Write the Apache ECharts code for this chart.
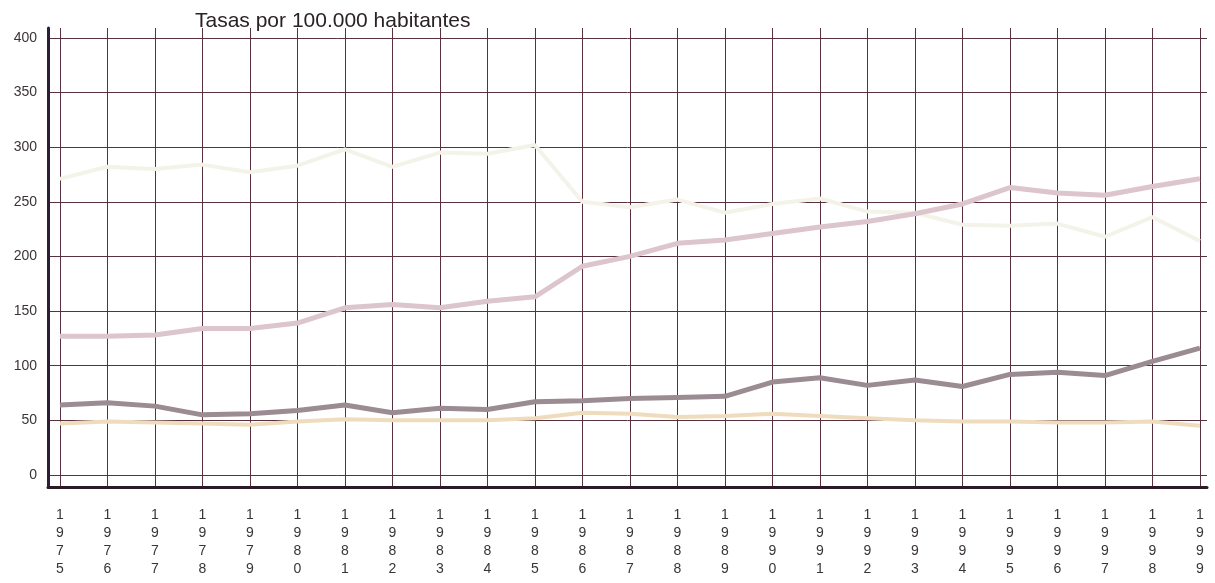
<!DOCTYPE html>
<html>
<head>
<meta charset="utf-8">
<script src="https://cdn.jsdelivr.net/npm/echarts@6/dist/echarts.min.js"></script>
<style>html,body{margin:0;padding:0;background:#fff}#c{width:1215px;height:583px}</style>
</head>
<body>
<div id="c"></div>
<script>
const years = [1975,1976,1977,1978,1979,1980,1981,1982,1983,1984,1985,1986,1987,1988,1989,1990,1991,1992,1993,1994,1995,1996,1997,1998,1999];
const yTicks = [0,50,100,150,200,250,300,350,400];
const serieClara = [271,282,280,284,277,283,298,282,295,294,302,250,245,252,240,248,253,241,240,229,228,230,218,236,214];
const serieRosa = [127,127,128,134,134,139,153,156,153,159,163,191,200,212,215,221,227,232,239,248,263,258,256,264,271];
const serieOscura = [64,66,63,55,56,59,64,57,61,60,67,68,70,71,72,85,89,82,87,81,92,94,91,104,116];
const serieAmarilla = [47,49,48,47,46,49,51,50,50,50,52,57,56,53,54,56,54,52,50,49,49,48,48,49,45];

const pairs = arr => years.map((y, i) => [y, arr[i]]);
const gridColor = '#58303f';
const font = 'Liberation Sans, Arial, sans-serif';

const chart = echarts.init(document.getElementById('c'));
chart.setOption({
  backgroundColor: '#ffffff',
  animation: false,
  title: {
    text: 'Tasas por 100.000 habitantes',
    left: 190, top: 6,
    textStyle: {fontFamily: font, fontSize: 21, fontWeight: 'normal', color: '#2a2226'}
  },
  grid: {left: 48, right: 8, top: 28, bottom: 96},
  xAxis: {
    type: 'value',
    min: 1974.75, max: 1999.15,
    axisLine: {show: true, onZero: false, lineStyle: {color: '#2b1b24', width: 3}},
    axisTick: {show: false, customValues: years},
    splitLine: {show: true, lineStyle: {color: gridColor, width: 1}},
    axisLabel: {
      customValues: years,
      margin: 19,
      fontFamily: font, fontSize: 14, color: '#3a3436', lineHeight: 18,
      formatter: v => String(Math.round(v)).split('').join('\n')
    }
  },
  yAxis: {
    type: 'value',
    min: -11, max: 409,
    axisLine: {show: true, onZero: false, lineStyle: {color: '#2a2038', width: 3}},
    axisTick: {show: false, customValues: yTicks},
    splitLine: {show: true, lineStyle: {color: gridColor, width: 1}},
    axisLabel: {
      customValues: yTicks,
      margin: 11,
      fontFamily: font, fontSize: 14, color: '#3a3436'
    }
  },
  series: [
    {type: 'line', data: pairs(serieClara), symbol: 'none', lineStyle: {color: '#f4f3ea', width: 4}},
    {type: 'line', data: pairs(serieRosa), symbol: 'none', lineStyle: {color: '#dcc5cd', width: 5}},
    {type: 'line', data: pairs(serieOscura), symbol: 'none', lineStyle: {color: '#9b8b93', width: 5}},
    {type: 'line', data: pairs(serieAmarilla), symbol: 'none', lineStyle: {color: '#efdcbc', width: 4}}
  ]
});
</script>
</body>
</html>
